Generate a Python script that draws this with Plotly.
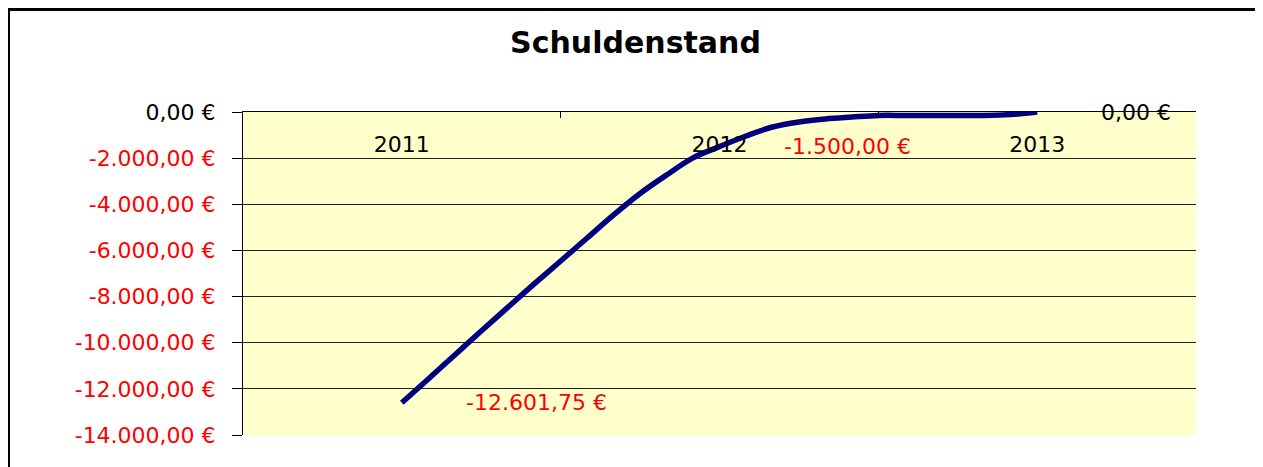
import plotly.graph_objects as go

# Schuldenstand: monthly balance (month 0 = 2011, 12 = 2012, 24 = 2013)
months = list(range(25))
balance = [-12601.75, -11570, -10530, -9490, -8470, -7450, -6460, -5460, -4460,
           -3530, -2730, -1990, -1500, -1040, -650, -430, -300, -220, -150,
           -150, -150, -150, -150, -110, 0]

year_pos = [0, 12, 24]
year_labels = ['2011', '2012', '2013']
label_months = [0, 12, 24]
y_ticks = [0, -2000, -4000, -6000, -8000, -10000, -12000, -14000]
band_edges = [-6, 6, 18, 30]

FONT = 'DejaVu Sans'


def euro(v):
    s = f'{v:,.2f}'.replace(',', 'X').replace('.', ',').replace('X', '.')
    return s + ' €'


def colored(v):
    txt = euro(v)
    if v < 0:
        return f'<span style="color:#FF0000">{txt}</span>'
    return txt


fig = go.Figure()
fig.add_trace(go.Scatter(
    x=months,
    y=balance,
    mode='lines',
    line=dict(color='#000080', width=5.5, shape='spline', smoothing=1.0),
    hoverinfo='skip',
    showlegend=False
))
# empty trace so the year-label axis gets drawn
fig.add_trace(go.Scatter(
    x=year_pos, y=[None] * len(year_pos), xaxis='x2', mode='lines',
    hoverinfo='skip', showlegend=False
))

for m in label_months:
    v = balance[m]
    fig.add_annotation(
        x=m, y=v, xref='x', yref='y',
        text=euro(v), showarrow=False,
        xanchor='left', yanchor='middle', xshift=62,
        font=dict(family=FONT, size=22, color='#FF0000' if v < 0 else '#000000')
    )

# page body has an 8px margin, so the figure is 8px smaller than the window
W, H = 1255, 459
L, R, T, B = 235, 67, 104, 32
pw, ph = W - L - R, H - T - B

fig.update_layout(
    width=W, height=H,
    margin=dict(l=L, r=R, t=T, b=B),
    paper_bgcolor='white',
    plot_bgcolor='#FFFFCC',
    title=dict(
        text='<b>Schuldenstand</b>',
        x=0.5, xanchor='center',
        y=1 - 34 / H, yanchor='middle', yref='container',
        font=dict(family=FONT, size=30, color='black')
    ),
    xaxis=dict(
        range=[-6, 30],
        side='top',
        showline=True, linecolor='black', linewidth=1,
        showgrid=False, zeroline=False,
        tickvals=band_edges, ticktext=['', '', '', ''],
        ticks='inside', ticklen=6, tickcolor='black'
    ),
    xaxis2=dict(
        range=[-6, 30],
        overlaying='x', anchor='free', position=1 - 17 / ph,
        side='bottom',
        showline=False, showgrid=False, zeroline=False,
        tickvals=year_pos, ticktext=year_labels, ticks='',
        tickfont=dict(family=FONT, size=22, color='black')
    ),
    yaxis=dict(
        range=[-14000, 0],
        showline=True, linecolor='black', linewidth=1,
        showgrid=True, gridcolor='#222222', gridwidth=1,
        zeroline=False,
        tickvals=y_ticks, ticktext=[colored(v) for v in y_ticks],
        ticks='outside', ticklen=10, tickcolor='black',
        ticklabelstandoff=12,
        tickfont=dict(family=FONT, size=22, color='black')
    ),
    shapes=[dict(
        type='rect', xref='paper', yref='paper',
        x0=(0.5 - L) / pw, x1=(1251 - L) / pw,
        y0=(ph - (470 - T)) / ph, y1=(ph + T - 1.5) / ph,
        line=dict(color='black', width=3), fillcolor='rgba(0,0,0,0)',
        layer='below'
    )]
)

fig.write_html('out.html')
